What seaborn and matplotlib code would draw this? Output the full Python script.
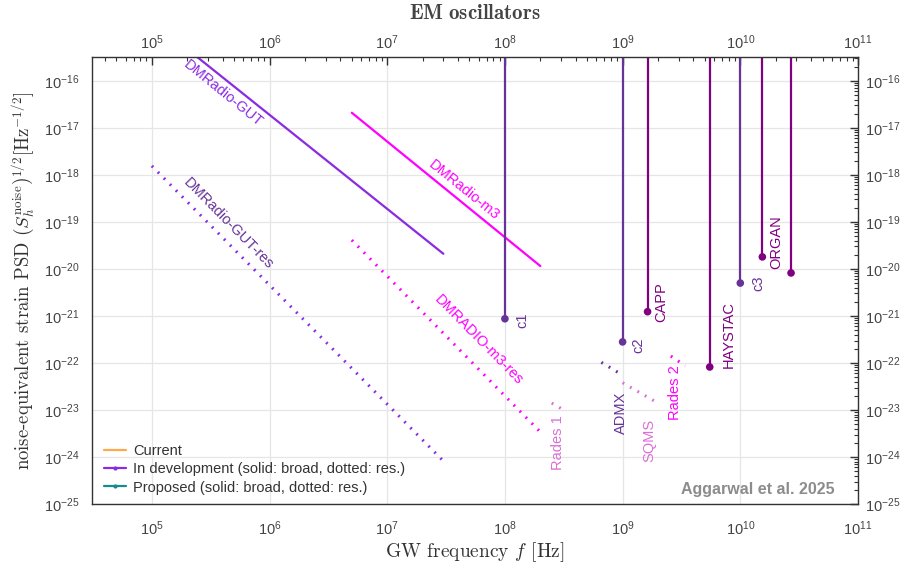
import numpy as np
import pandas as pd
import seaborn as sns
import matplotlib
matplotlib.use('Agg')
import matplotlib.pyplot as plt
from matplotlib.lines import Line2D
from matplotlib.ticker import LogLocator, NullFormatter

# broadband lines (endpoints, Hz / strain PSD)
gut_f = [1e5, 3.0e7]
gut_h = [1.9e-15, 2.1e-20]
gut_res_f = [1e5, 3.0e7]
gut_res_h = [1.55e-18, 8.2e-25]
m3_f = [5e6, 2e8]
m3_h = [2.1e-17, 1.15e-20]
m3_res_f = [5e6, 2e8]
m3_res_h = [4.1e-20, 3.4e-24]

# short resonant segments
admx_f = [6.6e8, 1e9]
admx_h = [1.03e-22, 5.5e-23]
sqms_f = [1e9, 1.9e9]
sqms_h = [3.8e-23, 1.5e-23]
rades1_f = [2.5e8, 3.2e8]
rades1_h = [1.4e-23, 9.8e-24]
rades2_f = [2.57e9, 3.4e9]
rades2_h = [1.4e-22, 8.7e-23]

# single-frequency experiments
single_names = ['c1', 'c2', 'CAPP', 'HAYSTAC', 'c3', 'ORGAN', 'ORGAN2']
single_f = [1e8, 1e9, 1.63e9, 5.5e9, 1e10, 1.54e10, 2.7e10]
single_h = [8.7e-22, 2.8e-22, 1.23e-21, 8.2e-23, 5.0e-21, 1.8e-20, 8.2e-21]

RPURPLE = '#663399'
PURPLE = '#800080'
BVIOLET = '#8a2be2'
MAGENTA = '#ff00ff'
ORCHID = '#da70d6'
single_col = [RPURPLE, RPURPLE, PURPLE, PURPLE, RPURPLE, PURPLE, PURPLE]

sns.set_theme(style='white')
plt.rcParams['font.family'] = ['Liberation Sans', 'DejaVu Sans']
plt.rcParams['mathtext.fontset'] = 'custom'
plt.rcParams['mathtext.rm'] = 'Liberation Sans'
plt.rcParams['mathtext.it'] = 'Liberation Sans:italic'
plt.rcParams['mathtext.bf'] = 'Liberation Sans:bold'
plt.rcParams['axes.formatter.use_mathtext'] = True

fig = plt.figure(figsize=(9.06, 5.74), dpi=100)
ax = fig.add_axes([0.1015, 0.122, 0.8455, 0.7785])
ax.set_xscale('log')
ax.set_yscale('log')
ax.set_xlim(3.1e4, 1e11)
ax.set_ylim(1e-25, 3.2e-16)

# solid broad lines
sns.lineplot(x=gut_f, y=gut_h, ax=ax, color=BVIOLET, lw=1.6)
sns.lineplot(x=m3_f, y=m3_h, ax=ax, color=MAGENTA, lw=1.6)

dot = dict(lw=2.2, linestyle=(0, (0.6, 2.2)), dash_capstyle='butt')
for ff, hh, cc in [(gut_res_f, gut_res_h, BVIOLET), (m3_res_f, m3_res_h, MAGENTA),
                   (admx_f, admx_h, RPURPLE), (sqms_f, sqms_h, ORCHID),
                   (rades1_f, rades1_h, ORCHID), (rades2_f, rades2_h, MAGENTA)]:
    ff_d = np.logspace(np.log10(ff[0]), np.log10(ff[1]), 50)
    hh_d = np.exp(np.interp(np.log(ff_d), np.log(ff), np.log(hh)))
    sns.lineplot(x=ff_d, y=hh_d, ax=ax, color=cc, **dot)

# vertical single frequency lines
ax.vlines(single_f, single_h, [1e-15] * len(single_f), colors=single_col, lw=1.6)
sdf = pd.DataFrame({'f': single_f, 'h': single_h, 'name': single_names})
sns.scatterplot(data=sdf, x='f', y='h', hue='name', palette=single_col,
                s=30, edgecolor='none', legend=False, ax=ax, zorder=5)

tfs = 10.5
ax.text(4.0e5, 5.3e-17, 'DMRadio-GUT', color=BVIOLET, rotation=-39,
        ha='center', va='center', rotation_mode='anchor', fontsize=tfs)
ax.text(4.5e5, 9.1e-20, 'DMRadio-GUT-res', color=RPURPLE, rotation=-45.5,
        ha='center', va='center', rotation_mode='anchor', fontsize=tfs)
ax.text(4.5e7, 4.8e-19, 'DMRadio-m3', color=MAGENTA, rotation=-39,
        ha='center', va='center', rotation_mode='anchor', fontsize=tfs)
ax.text(6.0e7, 3.1e-22, 'DMRADIO-m3-res', color=MAGENTA, rotation=-45.5,
        ha='center', va='center', rotation_mode='anchor', fontsize=tfs)

vlabels = [('c1', 1.4e8, 8.1e-22, RPURPLE), ('c2', 1.37e9, 2.4e-22, RPURPLE),
           ('CAPP', 2.15e9, 2.0e-21, PURPLE), ('HAYSTAC', 8.0e9, 4.0e-22, PURPLE),
           ('c3', 1.42e10, 5e-21, RPURPLE), ('ORGAN', 2.03e10, 3.7e-20, PURPLE),
           ('ADMX', 9.6e8, 8.7e-24, RPURPLE), ('SQMS', 1.7e9, 2.2e-24, ORCHID),
           ('Rades 1', 2.8e8, 2.0e-24, ORCHID), ('Rades 2', 2.77e9, 2.3e-23, MAGENTA)]
for name, xx, yy, cc in vlabels:
    ax.text(xx, yy, name, color=cc, rotation=90, ha='center', va='center', fontsize=tfs)

ax.text(0.970, 0.032, 'Aggarwal et al. 2025', transform=ax.transAxes, ha='right',
        va='center', fontsize=11.5, fontweight='bold', color='#8c8c8c')

# axes styling
ax.grid(True, which='major', color='#e6e6e6', lw=0.9)
ax.set_axisbelow(True)
for sp in ax.spines.values():
    sp.set_color('#333333')
    sp.set_linewidth(1.0)


def log_ticks(axis):
    axis.set_major_locator(LogLocator(base=10, numticks=20))
    axis.set_minor_locator(LogLocator(base=10, subs=np.arange(2, 10), numticks=20))
    axis.set_minor_formatter(NullFormatter())


log_ticks(ax.xaxis)
log_ticks(ax.yaxis)
ax.tick_params(which='both', direction='in', top=True, right=True,
               colors='#333333', labelcolor='#444444', labelsize=10.5)
ax.tick_params(which='major', length=6, width=1)
ax.tick_params(which='minor', length=3, width=0.8)
ax.tick_params(axis='x', which='major', pad=11)
ax.tick_params(axis='y', which='major', pad=9)

# duplicate labels on top and right
ident = (lambda v: v, lambda v: v)
ax_top = ax.secondary_xaxis('top', functions=ident)
ax_right = ax.secondary_yaxis('right', functions=ident)
for sec, axis in [(ax_top, ax_top.xaxis), (ax_right, ax_right.yaxis)]:
    log_ticks(axis)
    sec.tick_params(which='both', length=0, labelcolor='#444444', labelsize=10.5)
    for sp in sec.spines.values():
        sp.set_visible(False)
ax_top.tick_params(which='major', pad=4)
ax_right.tick_params(which='major', pad=5)

ax.set_xlabel(r'GW frequency $f$ [Hz]', fontsize=14, color='#333333',
              fontfamily='cmr10', math_fontfamily='cm', labelpad=2)
ax.set_ylabel(r'noise-equivalent strain PSD $\left(S_h^{\rm noise}\right)^{1/2}[\rm Hz^{-1/2}]$',
              fontsize=13.5, color='#333333', fontfamily='cmr10', math_fontfamily='cm',
              labelpad=4)
ax_top.set_xlabel(r'$\mathbf{EM\ oscillators}$', fontsize=15, color='#444444',
                  math_fontfamily='cm', labelpad=10)

handles = [Line2D([], [], color='#ffa94d', lw=1.6),
           Line2D([], [], color=BVIOLET, lw=1.6, marker='.', markersize=4, markevery=0.25),
           Line2D([], [], color='#1a8a8a', lw=1.6, marker='.', markersize=4, markevery=0.25)]
ax.legend(handles, ['Current', 'In development (solid: broad, dotted: res.)',
                    'Proposed (solid: broad, dotted: res.)'],
          loc='lower left', bbox_to_anchor=(0.0, -0.005), frameon=False, fontsize=10.5,
          handlelength=1.5, handletextpad=0.5, labelspacing=0.3, borderaxespad=0.4,
          labelcolor='#333333')

fig.savefig('out.png', dpi=100)
